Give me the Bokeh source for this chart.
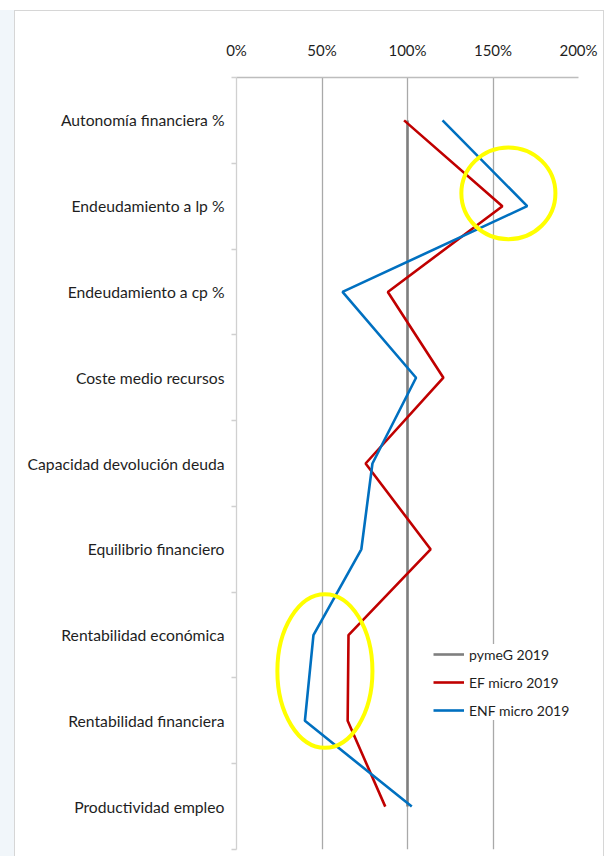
from bokeh.plotting import figure
from bokeh.models import (Range1d, FixedTicker, Legend, LegendItem)
from bokeh.embed import file_html
from bokeh.resources import INLINE

# ---- data ----
categories = [
    "Autonomía financiera %",
    "Endeudamiento a lp %",
    "Endeudamiento a cp %",
    "Coste medio recursos",
    "Capacidad devolución deuda",
    "Equilibrio financiero",
    "Rentabilidad económica",
    "Rentabilidad financiera",
    "Productividad empleo",
]
pymeg_2019 = [1.00, 1.00, 1.00, 1.00, 1.00, 1.00, 1.00, 1.00, 1.00]
ef_micro_2019 = [0.98, 1.555, 0.885, 1.21, 0.755, 1.135, 0.655, 0.65, 0.87]
enf_micro_2019 = [1.205, 1.70, 0.62, 1.05, 0.795, 0.73, 0.45, 0.40, 1.025]
x_ticks = [0, 0.5, 1.0, 1.5, 2.0]
x_tick_labels = ["0%", "50%", "100%", "150%", "200%"]
series_names = ["pymeG 2019", "EF micro 2019", "ENF micro 2019"]

# highlight ellipses (annotations): centre x, centre y (category units), width, height
hl_x = [1.59, 0.517]
hl_y = [1.35, 6.92]
hl_w = [0.55, 0.556]
hl_h = [1.07, 1.79]

n = len(categories)
centers = [i + 0.5 for i in range(n)]
boundaries = list(range(n + 1))

FONT = "Lato"
TXT = "#1e1e1e"

p = figure(width=590, height=846,
           x_range=Range1d(0, 2), y_range=Range1d(n, 0),
           x_axis_location="above",
           output_backend="svg", toolbar_location=None,
           min_border_left=221, min_border_right=27,
           min_border_top=66, min_border_bottom=8,
           margin=(10, 0, 0, 14))
p.styles = {"border-left": "1px solid #d6d6d6",
            "border-top": "1px solid #d6d6d6",
            "border-right": "1px solid #d6d6d6",
            "box-shadow": "-14px 0 0 0 #f1f6fa"}
p.outline_line_color = None
p.background_fill_color = "white"
p.border_fill_color = "white"

# x axis (top)
xa = p.xaxis[0]
xa.ticker = FixedTicker(ticks=x_ticks)
xa.major_label_overrides = {t: l for t, l in zip(x_ticks, x_tick_labels)}
xa.major_tick_line_color = None
xa.minor_tick_line_color = None
xa.axis_line_color = "#bdbdbd"
xa.axis_line_width = 1.3
xa.major_label_text_font = FONT
xa.major_label_text_font_size = "15px"
xa.major_label_text_color = TXT
xa.major_label_standoff = 13

# y axis (categories)
ya = p.yaxis[0]
ya.ticker = FixedTicker(ticks=centers, minor_ticks=boundaries)
ya.major_label_overrides = {c: lab for c, lab in zip(centers, categories)}
ya.major_tick_line_color = None
ya.minor_tick_line_color = "#d0d0d0"
ya.minor_tick_line_width = 1.3
ya.minor_tick_out = 5
ya.minor_tick_in = 0
ya.axis_line_color = "#d0d0d0"
ya.axis_line_width = 1.3
ya.major_label_text_font = FONT
ya.major_label_text_font_size = "15.7px"
ya.major_label_text_color = TXT
ya.major_label_standoff = 6

p.xgrid.ticker = FixedTicker(ticks=x_ticks[1:])
p.xgrid.grid_line_color = "#a9a9a9"
p.xgrid.grid_line_width = 1.3
p.ygrid.visible = False

r_pyme = p.line(pymeg_2019, centers, line_color="#7f7f7f", line_width=2.6)
r_ef = p.line(ef_micro_2019, centers, line_color="#c00000", line_width=2.6)
r_enf = p.line(enf_micro_2019, centers, line_color="#0070c0", line_width=2.6)

p.ellipse(x=hl_x, y=hl_y, width=hl_w, height=hl_h,
          fill_color=None, line_color="#ffff00", line_width=4)

legend = Legend(items=[LegendItem(label=series_names[0], renderers=[r_pyme]),
                       LegendItem(label=series_names[1], renderers=[r_ef]),
                       LegendItem(label=series_names[2], renderers=[r_enf])],
                location=(197, 129),
                background_fill_color="white", background_fill_alpha=1.0,
                border_line_color=None,
                glyph_width=31, glyph_height=20, label_height=20,
                spacing=8, padding=6, margin=0, label_standoff=5,
                label_text_font=FONT, label_text_font_size="14px",
                label_text_color=TXT)
p.add_layout(legend)

open("out.html", "w").write(file_html(p, INLINE))
